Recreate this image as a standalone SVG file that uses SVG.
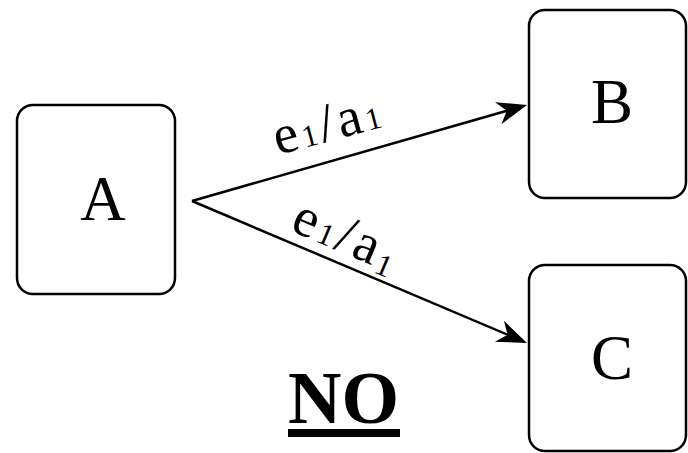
<svg xmlns="http://www.w3.org/2000/svg" width="688" height="453" viewBox="0 0 688 453">
<style>
.box{fill:#fff;stroke:#000;stroke-width:2.5}
text{font-family:'Liberation Serif','Times New Roman',serif;fill:#000}
.lbl{font-size:63px;text-anchor:middle}
.edge{font-size:55px;letter-spacing:3.5px}
.sub{font-size:31px}
.conn{stroke:#000;stroke-width:2.5;fill:none}
</style>
<defs>
<marker id="arr" markerUnits="userSpaceOnUse" viewBox="-16 -13 32 26" markerWidth="32" markerHeight="26" refX="0" refY="0" orient="auto">
<path d="M15,0 L-15,-11.5 L-6,0 L-15,11.5 Z" fill="#000"/>
</marker>
</defs>
<rect width="688" height="453" fill="#fff"/>
<g id="A"><rect class="box" x="17" y="105" width="158" height="189" rx="16"/><text class="lbl" x="103" y="220">A</text></g>
<g id="B"><rect class="box" x="529" y="10" width="157" height="188" rx="16"/><text class="lbl" x="612" y="123">B</text></g>
<g id="C"><rect class="box" x="529" y="265" width="157" height="186" rx="16"/><text class="lbl" x="612" y="379">C</text></g>
<g id="connectors">
<line class="conn" x1="192" y1="201" x2="512.6" y2="109.1" marker-end="url(#arr)"/>
<line class="conn" x1="192" y1="201" x2="513.2" y2="337.1" marker-end="url(#arr)"/>
<text class="edge" transform="translate(278 155) rotate(-15)">e<tspan class="sub">1</tspan>/a<tspan class="sub">1</tspan></text>
<text class="edge" transform="translate(289 230) rotate(23)">e<tspan class="sub">1</tspan>/a<tspan class="sub" dy="6">1</tspan></text>
</g>
<g id="note">
<text x="288" y="423" style="font-size:74px;font-weight:bold">NO</text>
<rect x="288" y="429" width="112" height="8" fill="#000"/>
</g>
</svg>
